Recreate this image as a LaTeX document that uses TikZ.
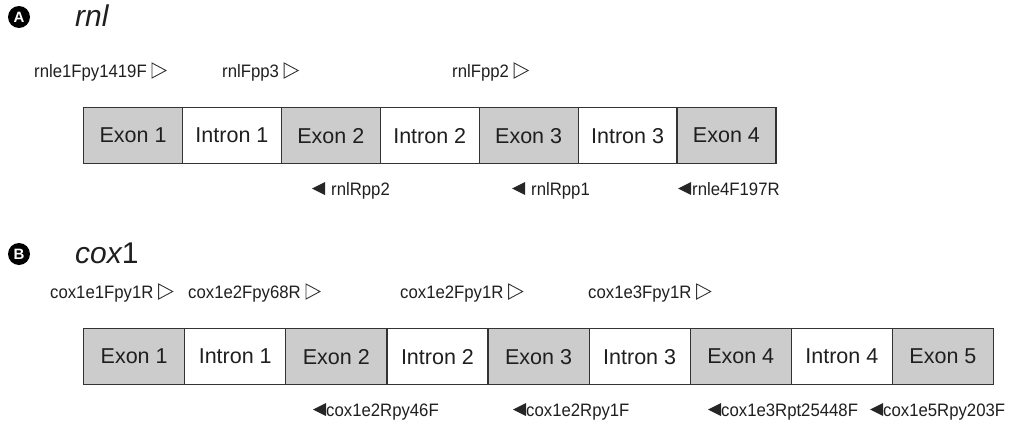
\documentclass[tikz,border=0pt]{standalone}
\usepackage{fontspec}
\setmainfont{Liberation Sans}
\newfontfamily\primerfont[FakeStretch=0.93]{Liberation Sans}
\begin{document}
\begin{tikzpicture}[x=1pt,y=-1pt,
  every node/.style={inner sep=0pt, text=black!88},
  cell/.style={draw=black!80, line width=1.2pt, minimum height=56pt,
    anchor=north west, font=\fontsize{21.5}{24}\selectfont},
  exon/.style={cell, fill=gray!40},
  intron/.style={cell, fill=white},
  primer/.style={anchor=base west, font=\primerfont\fontsize{18}{20}\selectfont},
  title/.style={anchor=west, font=\fontsize{30}{32}\selectfont\itshape},
  badge/.style={circle, fill=black, minimum size=22pt, text=white,
    font=\fontsize{15}{16}\selectfont\bfseries},
  fwdtip/.style={draw=black!80, line width=0.9pt, line join=miter},
  revtip/.style={fill=black!85}
]
\useasboundingbox (0,0) rectangle (1024,431);

% forward primer: open triangle after the label
\newcommand\fwdmark[1]{\draw[fwdtip] ([xshift=5pt,yshift=14pt]#1.base east)
  -- ++(14,7.5) -- ++(-14,7.5) -- cycle;}
% reverse primer: filled triangle before the label
\newcommand\revmark[2]{\fill[revtip] ([xshift=-#2,yshift=13pt]#1.base west)
  -- ++(0,13) -- ++(-13,-6.5) -- cycle;}

% ---------------- A: rnl ----------------
\node[badge] (bA) at (19,17) {A};
\node[title] (tA) at (75,16) {rnl};

\node[primer] (fA1) at (34,77)  {rnle1Fpy1419F};
\node[primer] (fA2) at (222,77) {rnlFpp3};
\node[primer] (fA3) at (452,77) {rnlFpp2};
\fwdmark{fA1}\fwdmark{fA2}\fwdmark{fA3}

\foreach \i/\k/\t in {1/exon/Exon 1, 2/intron/Intron 1, 3/exon/Exon 2, 4/intron/Intron 2,
                      5/exon/Exon 3, 6/intron/Intron 3, 7/exon/Exon 4}
  \node[\k, minimum width=98.9pt] (a\i) at ({83+(\i-1)*98.9},107) {\t};

\node[primer] (rA1) at (331,195) {rnlRpp2};
\node[primer] (rA2) at (531,195) {rnlRpp1};
\node[primer] (rA3) at (692,195) {rnle4F197R};
\revmark{rA1}{6pt}\revmark{rA2}{6pt}\revmark{rA3}{1pt}

% ---------------- B: cox1 ----------------
\node[badge] (bB) at (19,254) {B};
\node[title] (tB) at (75,253) {cox\upshape1};

\node[primer] (fB1) at (50,298)  {cox1e1Fpy1R};
\node[primer] (fB2) at (188,298) {cox1e2Fpy68R};
\node[primer] (fB3) at (400,298) {cox1e2Fpy1R};
\node[primer] (fB4) at (588,298) {cox1e3Fpy1R};
\fwdmark{fB1}\fwdmark{fB2}\fwdmark{fB3}\fwdmark{fB4}

\foreach \i/\k/\t in {1/exon/Exon 1, 2/intron/Intron 1, 3/exon/Exon 2, 4/intron/Intron 2,
                      5/exon/Exon 3, 6/intron/Intron 3, 7/exon/Exon 4, 8/intron/Intron 4,
                      9/exon/Exon 5}
  \node[\k, minimum width=101.1pt] (b\i) at ({83+(\i-1)*101.1},328) {\t};

\node[primer] (rB1) at (326,416) {cox1e2Rpy46F};
\node[primer] (rB2) at (526,416) {cox1e2Rpy1F};
\node[primer] (rB3) at (721,416) {cox1e3Rpt25448F};
\node[primer] (rB4) at (883,416) {cox1e5Rpy203F};
\revmark{rB1}{0pt}\revmark{rB2}{0pt}\revmark{rB3}{0pt}\revmark{rB4}{0pt}
\end{tikzpicture}
\end{document}
